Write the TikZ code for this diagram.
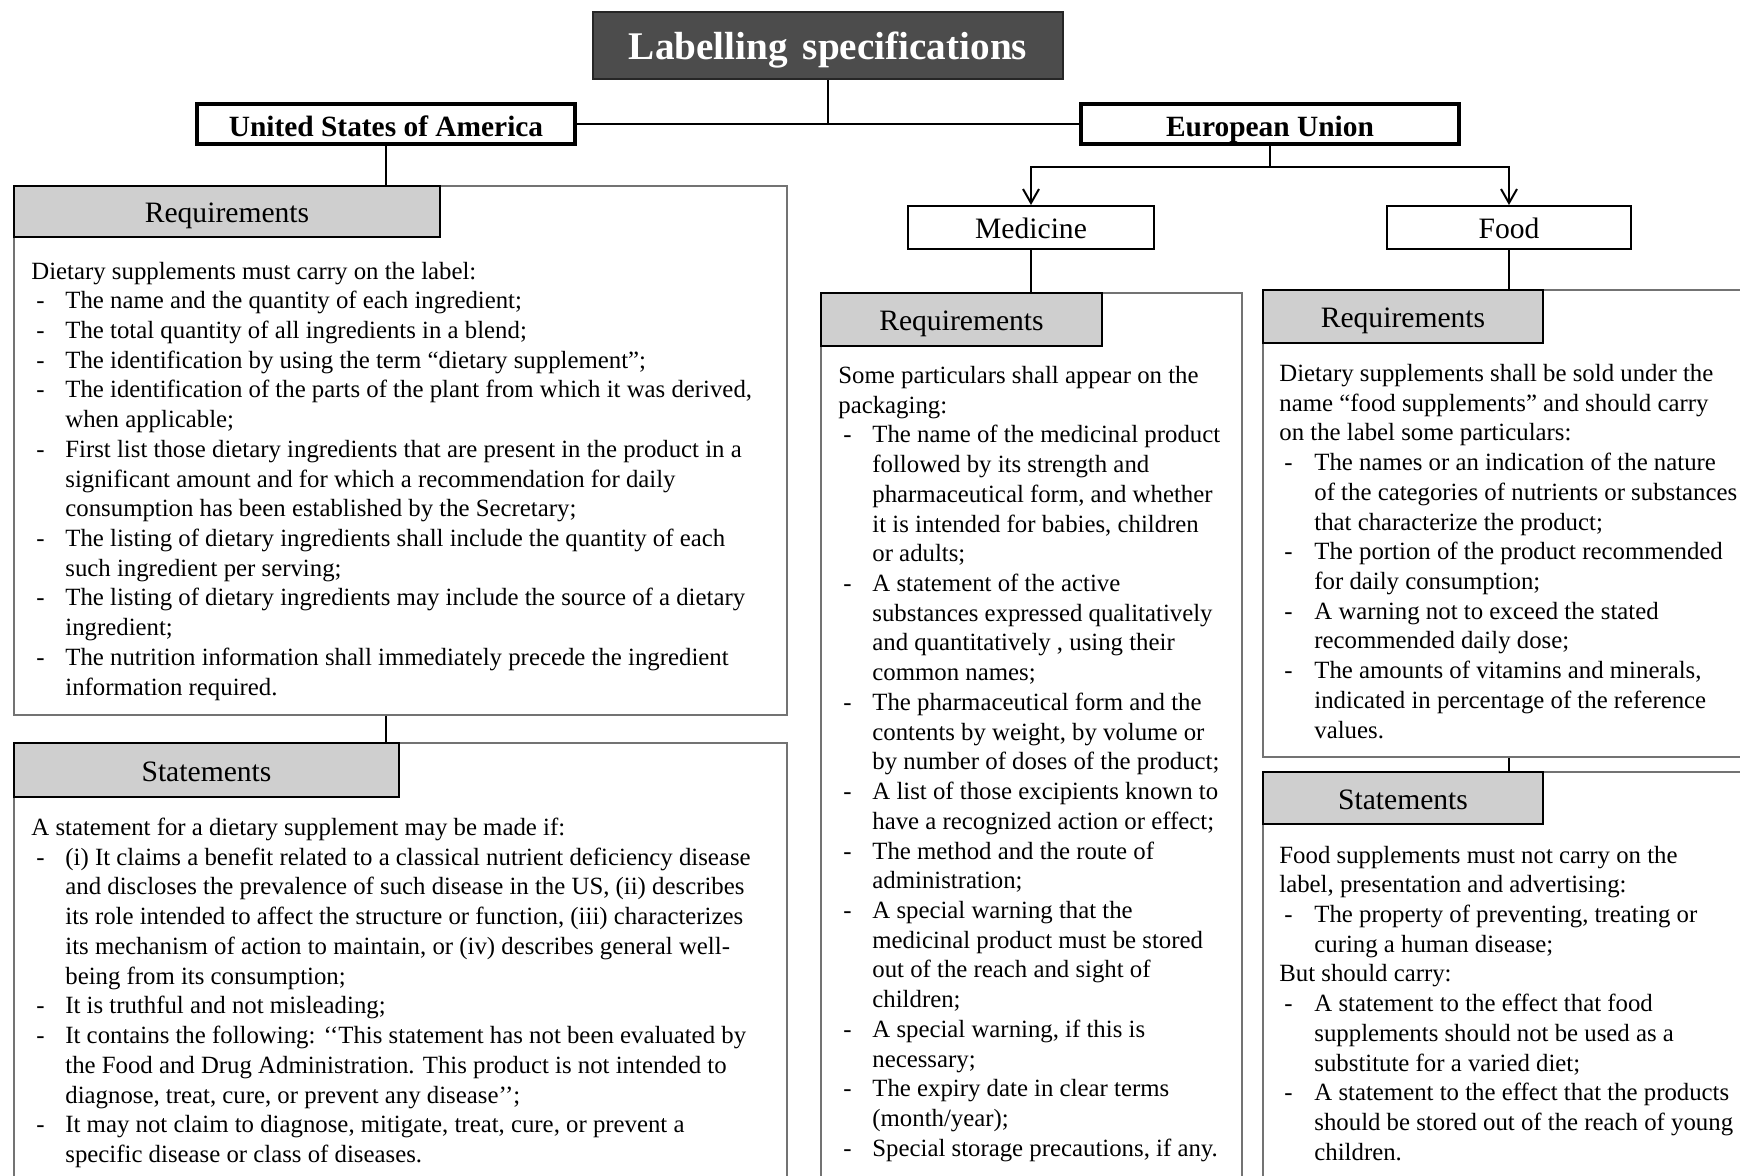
\documentclass[tikz,border=0pt]{standalone}
\usepackage{fontspec}
\setmainfont{Liberation Serif}
\usetikzlibrary{arrows.meta}
\newcommand\dashitem{\hspace*{2.5pt}-}
\begin{document}
\begin{tikzpicture}[x=0.5pt,y=-0.5pt,
  conn/.style={line width=1pt, draw=black},
  arrowconn/.style={conn, -{Straight Barb[length=7pt,width=8pt]}},
  topbox/.style={draw=black!85, line width=1pt, fill=black!70, text=white,
    font=\fontsize{19.6}{22}\selectfont\bfseries, inner sep=0pt,
    text height=14pt, text depth=0pt},
  regionbox/.style={draw=black, line width=2pt, fill=white,
    font=\fontsize{14.7}{17}\selectfont\bfseries, inner sep=0pt,
    text height=12.2pt, text depth=0pt},
  kindbox/.style={draw=black, line width=1pt, fill=white,
    font=\fontsize{14.8}{17}\selectfont, inner sep=0pt,
    text height=10.8pt, text depth=0pt},
  panel/.style={draw=black!55, line width=0.8pt, fill=white, inner sep=0pt, anchor=north west},
  tab/.style={draw=black, line width=1pt, fill=black!19,
    font=\fontsize{14.8}{17}\selectfont, inner sep=0pt, anchor=north west,
    text height=11.4pt, text depth=0pt},
  body/.style={inner sep=0pt, anchor=base west, font=\fontsize{12.4}{14.86}\selectfont}
]
\clip (0,0) rectangle (1740,1175);

% ---------- heading and the two jurisdictions ----------
\node[topbox, minimum width=235pt, minimum height=33.5pt] (title) at (828,45.5) {Labelling\hspace{0.38em}specifications};
\node[regionbox, minimum width=189pt, minimum height=20pt] (us) at (386,124) {United States of America};
\node[regionbox, minimum width=189pt, minimum height=20pt] (eu) at (1270,124) {European Union};

\node[kindbox, minimum width=123pt, minimum height=21.5pt] (med) at (1031,227.5) {Medicine};
\node[kindbox, minimum width=122pt, minimum height=21.5pt] (food) at (1509,227.5) {Food};

% ---------- panels ----------
\node[panel, minimum width=386.5pt, minimum height=264.5pt] (usreq) at (13,185) {};
\node[panel, minimum width=386.5pt, minimum height=224pt] (usst) at (13,742) {};
\node[panel, minimum width=210.5pt, minimum height=449pt] (medreq) at (820,292) {};
\node[panel, minimum width=249pt, minimum height=233.5pt] (foodreq) at (1262,289) {};
\node[panel, minimum width=249pt, minimum height=209.5pt] (foodst) at (1262,771) {};

\node[tab, minimum width=213pt, minimum height=25.5pt] (usreqh) at (13,185) {Requirements};
\node[tab, minimum width=192.5pt, minimum height=27pt] (ussth) at (13,742) {Statements};
\node[tab, minimum width=140.5pt, minimum height=26.5pt] (medreqh) at (820,292) {Requirements};
\node[tab, minimum width=140pt, minimum height=26.5pt] (foodreqh) at (1262,289) {Requirements};
\node[tab, minimum width=140pt, minimum height=26pt] (foodsth) at (1262,771) {Statements};

% ---------- connectors ----------
\draw[conn] (title.south) -- (title.south |- us.east);
\draw[conn] (us.east) -- (eu.west);
\draw[conn] (us.south) -- (us.south |- usreq.north);
\draw[conn] (us.south |- usreq.south) -- (us.south |- usst.north);
\coordinate (eusplit) at (1270,167);
\draw[conn] (eu.south) -- (eusplit);
\draw[arrowconn] (eusplit) -| (med.north);
\draw[arrowconn] (eusplit) -| (food.north);
\draw[conn] (med.south) -- (med.south |- medreq.north);
\draw[conn] (food.south) -- (food.south |- foodreq.north);
\draw[conn] (food.south |- foodreq.south) -- (food.south |- foodst.north);

% ---------- panel texts ----------
\node[body] (usreqtext) at (31,279) {\begin{tabular}[t]{@{}p{17pt}@{}l@{}}
\multicolumn{2}{@{}l@{}}{Dietary supplements must carry on the label:}\\
\dashitem & The name and the quantity of each ingredient;\\
\dashitem & The total quantity of all ingredients in a blend;\\
\dashitem & The identification by using the term “dietary supplement”;\\
\dashitem & The identification of the parts of the plant from which it was derived,\\
 & when applicable;\\
\dashitem & First list those dietary ingredients that are present in the product in a\\
 & significant amount and for which a recommendation for daily\\
 & consumption has been established by the Secretary;\\
\dashitem & The listing of dietary ingredients shall include the quantity of each\\
 & such ingredient per serving;\\
\dashitem & The listing of dietary ingredients may include the source of a dietary\\
 & ingredient;\\
\dashitem & The nutrition information shall immediately precede the ingredient\\
 & information required.
\end{tabular}};

\node[body] (ussttext) at (31,835.5) {\begin{tabular}[t]{@{}p{17pt}@{}l@{}}
\multicolumn{2}{@{}l@{}}{A statement for a dietary supplement may be made if:}\\
\dashitem & (i) It claims a benefit related to a classical nutrient deficiency disease\\
 & and discloses the prevalence of such disease in the US, (ii) describes\\
 & its role intended to affect the structure or function, (iii) characterizes\\
 & its mechanism of action to maintain, or (iv) describes general well-\\
 & being from its consumption;\\
\dashitem & It is truthful and not misleading;\\
\dashitem & It contains the following: ‘‘This statement has not been evaluated by\\
 & the Food and Drug Administration. This product is not intended to\\
 & diagnose, treat, cure, or prevent any disease’’;\\
\dashitem & It may not claim to diagnose, mitigate, treat, cure, or prevent a\\
 & specific disease or class of diseases.
\end{tabular}};

\node[body] (medtext) at (838,383.5) {\begin{tabular}[t]{@{}p{17pt}@{}l@{}}
\multicolumn{2}{@{}l@{}}{Some particulars shall appear on the}\\
\multicolumn{2}{@{}l@{}}{packaging:}\\
\dashitem & The name of the medicinal product\\
 & followed by its strength and\\
 & pharmaceutical form, and whether\\
 & it is intended for babies, children\\
 & or adults;\\
\dashitem & A statement of the active\\
 & substances expressed qualitatively\\
 & and quantitatively , using their\\
 & common names;\\
\dashitem & The pharmaceutical form and the\\
 & contents by weight, by volume or\\
 & by number of doses of the product;\\
\dashitem & A list of those excipients known to\\
 & have a recognized action or effect;\\
\dashitem & The method and the route of\\
 & administration;\\
\dashitem & A special warning that the\\
 & medicinal product must be stored\\
 & out of the reach and sight of\\
 & children;\\
\dashitem & A special warning, if this is\\
 & necessary;\\
\dashitem & The expiry date in clear terms\\
 & (month/year);\\
\dashitem & Special storage precautions, if any.
\end{tabular}};

\node[body] (foodreqtext) at (1279,381.5) {\begin{tabular}[t]{@{}p{17.5pt}@{}l@{}}
\multicolumn{2}{@{}l@{}}{Dietary supplements shall be sold under the}\\
\multicolumn{2}{@{}l@{}}{name “food supplements” and should carry}\\
\multicolumn{2}{@{}l@{}}{on the label some particulars:}\\
\dashitem & The names or an indication of the nature\\
 & of the categories of nutrients or substances\\
 & that characterize the product;\\
\dashitem & The portion of the product recommended\\
 & for daily consumption;\\
\dashitem & A warning not to exceed the stated\\
 & recommended daily dose;\\
\dashitem & The amounts of vitamins and minerals,\\
 & indicated in percentage of the reference\\
 & values.
\end{tabular}};

\node[body] (foodsttext) at (1279,863) {\begin{tabular}[t]{@{}p{17.5pt}@{}l@{}}
\multicolumn{2}{@{}l@{}}{Food supplements must not carry on the}\\
\multicolumn{2}{@{}l@{}}{label, presentation and advertising:}\\
\dashitem & The property of preventing, treating or\\
 & curing a human disease;\\
\multicolumn{2}{@{}l@{}}{But should carry:}\\
\dashitem & A statement to the effect that food\\
 & supplements should not be used as a\\
 & substitute for a varied diet;\\
\dashitem & A statement to the effect that the products\\
 & should be stored out of the reach of young\\
 & children.
\end{tabular}};
\end{tikzpicture}
\end{document}
